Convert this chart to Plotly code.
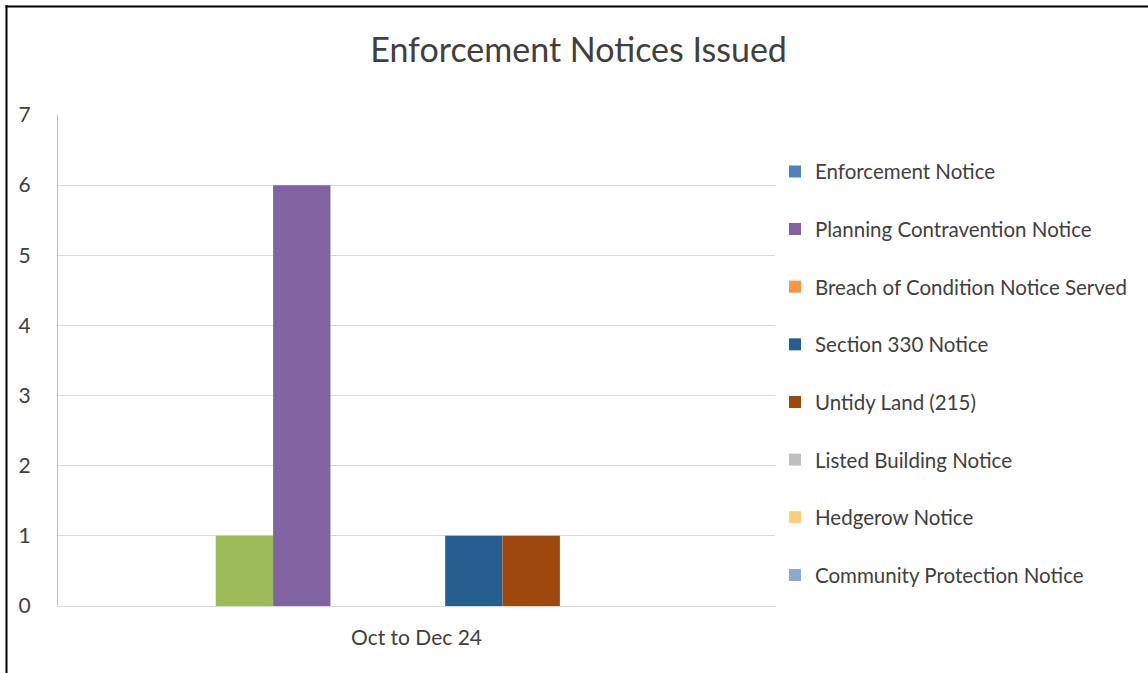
import plotly.graph_objects as go

categories = ["Oct to Dec 24"]

series_names = [
    "Other",
    "Planning Contravention Notice",
    "Enforcement Notice",
    "Breach of Condition Notice Served",
    "Listed Building Notice",
    "Section 330 Notice",
    "Untidy Land (215)",
    "Hedgerow Notice",
    "Community Protection Notice",
]
series_values = [1, 6, 0, 0, 0, 1, 1, 0, 0]
series_colors = ["#9BBB59", "#8064A2", "#4F81BD", "#F79646", "#BFBFBF",
                 "#255E91", "#9E480E", "#FFCD75", "#8EA5D6"]
series_slots = ["g1", "g2", "g3", "g3", "g4", "g5", "g6", "g7", "g7"]
series_in_legend = [False, True, True, True, True, True, True, True, True]
legend_rank = [0, 2, 1, 3, 6, 4, 5, 7, 8]

fig = go.Figure()
for name, val, col, slot, show, rank in zip(series_names, series_values, series_colors,
                                            series_slots, series_in_legend, legend_rank):
    fig.add_trace(go.Bar(
        x=categories, y=[val], name=name, marker_color=col, marker_line_width=0,
        offsetgroup=slot, alignmentgroup="a", showlegend=show,
        legendrank=rank, legendgroup=name,
    ))

PW, PH = 717, 491
fig.update_layout(
    width=1148, height=673,
    paper_bgcolor="white", plot_bgcolor="white",
    barmode="group", bargap=0.44, bargroupgap=0,
    margin=dict(l=58, r=373, t=115, b=67),
    font=dict(family="Lato, Open Sans, sans-serif", color="#404040", size=20),
    title=dict(text="Enforcement Notices Issued", x=0.504, xanchor="center",
               y=0.925, yanchor="middle",
               font=dict(size=34, color="#404040")),
    legend=dict(x=1.0, xanchor="left", y=0.9255, yanchor="top",
                font=dict(size=20.5, color="#404040"),
                tracegroupgap=28, traceorder="grouped", itemclick=False),
    shapes=[
        dict(type="line", xref="paper", yref="paper",
             x0=-51.5 / PW, x1=-51.5 / PW, y0=(606 - 5) / PH, y1=-80 / PH,
             line=dict(color="black", width=2)),
        dict(type="line", xref="paper", yref="paper",
             x0=-52.5 / PW, x1=(1148 - 58 + 5) / PW, y0=(606 - 6.5) / PH, y1=(606 - 6.5) / PH,
             line=dict(color="black", width=2)),
    ],
)
fig.update_yaxes(range=[0, 7], dtick=1, showgrid=True, gridcolor="#D9D9D9", gridwidth=1,
                 showline=True, linecolor="#BFBFBF", linewidth=1, zeroline=False,
                 ticks="", ticklabelstandoff=22, tickfont=dict(size=21, color="#404040"))
fig.update_xaxes(showline=True, linecolor="#D9D9D9", linewidth=1, ticks="",
                 ticklabelstandoff=13, tickfont=dict(size=21, color="#404040"))

fig.write_html("out.html", config={"displayModeBar": False},
               post_script="document.body.style.margin='0';")
